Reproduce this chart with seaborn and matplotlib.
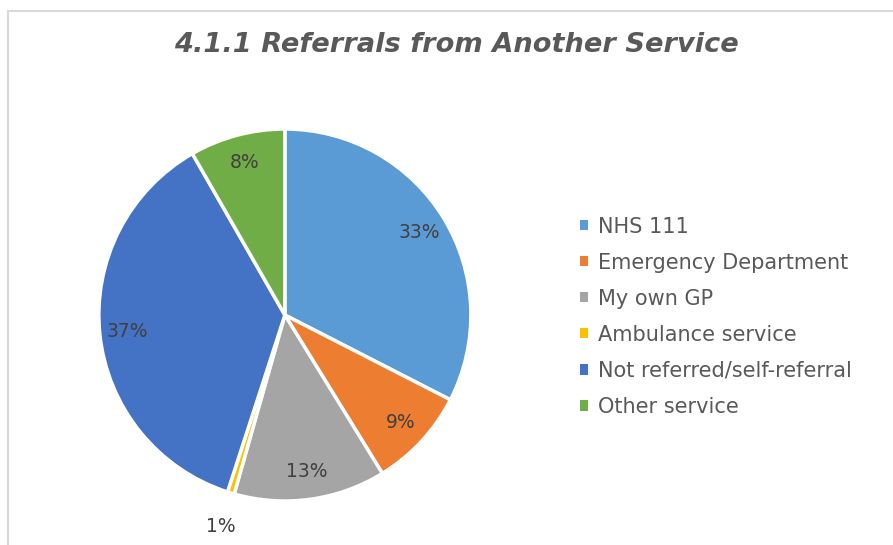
import matplotlib
matplotlib.use("Agg")
import matplotlib.pyplot as plt
from matplotlib.lines import Line2D
from matplotlib.patches import Patch
import seaborn as sns

sources = ["NHS 111", "Emergency Department", "My own GP", "Ambulance service",
           "Not referred/self-referral", "Other service"]
shares = [32.6, 8.7, 13.2, 0.6, 36.8, 8.3]
colours = ["#5B9BD5", "#ED7D31", "#A5A5A5", "#FFC000", "#4472C4", "#70AD47"]

sns.set_theme(style="white")
plt.rcParams['font.family'] = ['DejaVu Sans']

fig = plt.figure(figsize=(8.93, 5.45), dpi=100)
ax = fig.add_axes([0.1107, 0.0807, 0.4166, 0.6826])

palette = sns.color_palette(colours)
wedges, texts, autotexts = ax.pie(
    shares, colors=palette, startangle=90, counterclock=False,
    autopct='%.0f%%', pctdistance=0.85,
    wedgeprops=dict(edgecolor='white', linewidth=2.5),
    textprops=dict(color='#404040', fontsize=13.5))
ax.set_xlim(-1, 1)
ax.set_ylim(-1, 1)
ax.set_aspect('equal')

# tiny ambulance slice: label sits outside the pie
x, y = autotexts[3].get_position()
autotexts[3].set_position((x * 1.19 / 0.85, y * 1.19 / 0.85))

fig.text(0.511, 0.917, "4.1.1 Referrals from Another Service", ha='center', va='center',
         fontsize=19.6, style='italic', fontweight='bold', color='#595959')

handles = [Patch(facecolor=w.get_facecolor(), edgecolor='none') for w in wedges]
leg = fig.legend(handles, sources, loc='center left', bbox_to_anchor=(0.628, 0.419),
                 frameon=False, handlelength=0.4, handleheight=0.4, handletextpad=0.5,
                 labelspacing=0.77, fontsize=15)
for t in leg.get_texts():
    t.set_color('#595959')

# chart frame edges
fig.add_artist(Line2D([7.5 / 893, 1], [1 - 10.5 / 545] * 2, transform=fig.transFigure,
                      color='#d9d9d9', linewidth=1.5))
fig.add_artist(Line2D([7.5 / 893] * 2, [0, 1 - 10.5 / 545], transform=fig.transFigure,
                      color='#d9d9d9', linewidth=1.5))

fig.savefig("out.png", dpi=100)
